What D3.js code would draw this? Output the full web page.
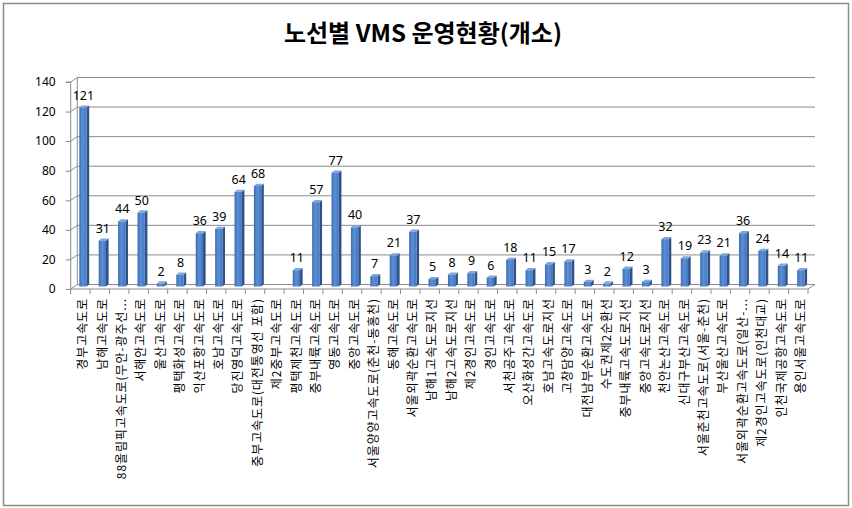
<!DOCTYPE html>
<html><head><meta charset="utf-8">
<script src="https://cdn.jsdelivr.net/npm/d3@7"></script>
<style>
html,body{margin:0;padding:0;background:#fff;}
svg{display:block;}
</style></head>
<body>
<script>
const categories = [
  "경부고속도로","남해고속도로","88올림픽고속도로(무안-광주선...","서해안고속도로","울산고속도로",
  "평택화성고속도로","익산포항고속도로","호남고속도로","당진영덕고속도로","중부고속도로(대전통영선 포함)",
  "제2중부고속도로","평택제천고속도로","중부내륙고속도로","영동고속도로","중앙고속도로",
  "서울양양고속도로(춘천-동홍천)","동해고속도로","서울외곽순환고속도로","남해1고속도로지선","남해2고속도로지선",
  "제2경인고속도로","경인고속도로","서천공주고속도로","오산화성간고속도로","호남고속도로지선",
  "고창담양고속도로","대전남부순환고속도로","수도권제2순환선","중부내륙고속도로지선","중앙고속도로지선",
  "천안논산고속도로","신대구부산고속도로","서울춘천고속도로(서울-춘천)","부산울산고속도로","서울외곽순환고속도로(일산-...",
  "제2경인고속도로(인천대교)","인천국제공항고속도로","용인서울고속도로"
];
const values = [121,31,44,50,2,8,36,39,64,68,0,11,57,77,40,7,21,37,5,8,9,6,18,11,15,17,3,2,12,3,32,19,23,21,36,24,14,11];
const yTickValues = [0,20,40,60,80,100,120,140];
const titleText = "노선별 VMS 운영현황(개소)";

const W = 852, H = 508;
const svg = d3.select("body").append("svg").attr("width", W).attr("height", H);

const defs = svg.append("defs");
const g1 = defs.append("linearGradient").attr("id","front").attr("x1","0").attr("x2","1").attr("y1","0").attr("y2","0");
g1.append("stop").attr("offset","0").attr("stop-color","#3c6cb0");
g1.append("stop").attr("offset","0.45").attr("stop-color","#5a8fd8");
g1.append("stop").attr("offset","1").attr("stop-color","#4576bd");

// outer border
svg.append("rect").attr("x",3.5).attr("y",3.5).attr("width",845).attr("height",502)
  .attr("fill","#fff").attr("stroke","#8c8c8c").attr("stroke-width",1.5);

// title
svg.append("text").attr("x",423).attr("y",42).attr("text-anchor","middle")
  .attr("font-family","'Noto Sans CJK KR', sans-serif").attr("font-weight","bold")
  .attr("font-size",24).attr("fill","#000").text(titleText);

const x0 = 70.7, x1 = 808;
const x = d3.scaleBand().domain(categories).range([x0, x1]).padding(0);
const y = d3.scaleLinear().domain([0,140]).range([289, 82]);
const dx = 6.6, dy = -4.5; // 3D wall offset
const gridColor = "#8c8c8c";

const grid = svg.append("g");
yTickValues.forEach(v => {
  const yy = y(v);
  grid.append("line").attr("x1",x0+dx).attr("x2",815).attr("y1",yy+dy).attr("y2",yy+dy)
    .attr("stroke",gridColor).attr("stroke-width",1);
  grid.append("line").attr("x1",x0).attr("x2",x0+dx).attr("y1",yy).attr("y2",yy+dy)
    .attr("stroke",gridColor).attr("stroke-width",1);
});
grid.append("line").attr("x1",x0+dx).attr("x2",x0+dx).attr("y1",y(140)+dy).attr("y2",y(0)+dy)
  .attr("stroke",gridColor).attr("stroke-width",1);
grid.append("line").attr("x1",x1).attr("x2",815).attr("y1",y(0)).attr("y2",y(0)+dy)
  .attr("stroke",gridColor).attr("stroke-width",1);

// y axis
const yAxis = d3.axisLeft(y).tickValues(yTickValues).tickSize(5).tickPadding(10);
const ya = svg.append("g").attr("transform",`translate(${x0},0)`).call(yAxis);
ya.select(".domain").attr("stroke",gridColor).attr("d",`M-5,${y(140)}H0V${y(0)}`);
ya.selectAll(".tick line").attr("stroke",gridColor);
ya.selectAll(".tick text").attr("font-family","'Noto Sans', sans-serif").attr("font-size",12).attr("fill","#000");

// x axis
const xAxis = d3.axisBottom(x).tickSize(0).tickFormat("");
const xa = svg.append("g").attr("transform",`translate(0,${y(0)})`).call(xAxis);
xa.select(".domain").attr("stroke",gridColor).attr("d",`M${x0},0H${x1}`);
xa.selectAll(".tick").remove();
const bounds = categories.map((c,i)=> x0 + i*x.bandwidth()).concat([x1]);
xa.selectAll("line.tk").data(bounds).enter().append("line").attr("class","tk")
  .attr("x1",d=>d).attr("x2",d=>d).attr("y1",0).attr("y2",5).attr("stroke",gridColor);

// bars
const bw = 7.3, sd = 2.6, td = -2.2, off = 8.6, lift = -2.5;
const bars = svg.append("g");
categories.forEach((c,i) => {
  const v = values[i];
  if (v <= 0) return;
  const xl = x(c) + off, xr = xl + bw;
  const yt = y(v) + lift, yb = y(0) + lift;
  bars.append("path").attr("d",`M${xr},${yt}L${xr+sd},${yt+td}L${xr+sd},${yb+td}L${xr},${yb}Z`).attr("fill","#2d528a");
  bars.append("path").attr("d",`M${xl},${yt}L${xl+sd},${yt+td}L${xr+sd},${yt+td}L${xr},${yt}Z`).attr("fill","#7ea6de");
  bars.append("rect").attr("x",xl).attr("y",yt).attr("width",bw).attr("height",yb-yt).attr("fill","url(#front)");
  bars.append("text").attr("x",xl+bw/2+0.5).attr("y",yt-8).attr("text-anchor","middle")
    .attr("font-family","'Noto Sans', sans-serif").attr("font-size",12.5).attr("fill","#000").text(v);
});

// x labels
const labels = svg.append("g");
categories.forEach((c,i) => {
  const cx = x(c) + off + bw/2;
  labels.append("text").attr("transform",`translate(${cx},298) rotate(-90)`)
    .attr("text-anchor","end").attr("dy","0.35em").attr("letter-spacing","0.9")
    .attr("font-family","'Noto Sans CJK KR', sans-serif").attr("font-size",12).attr("fill","#000").text(c);
});
</script>
</body></html>
